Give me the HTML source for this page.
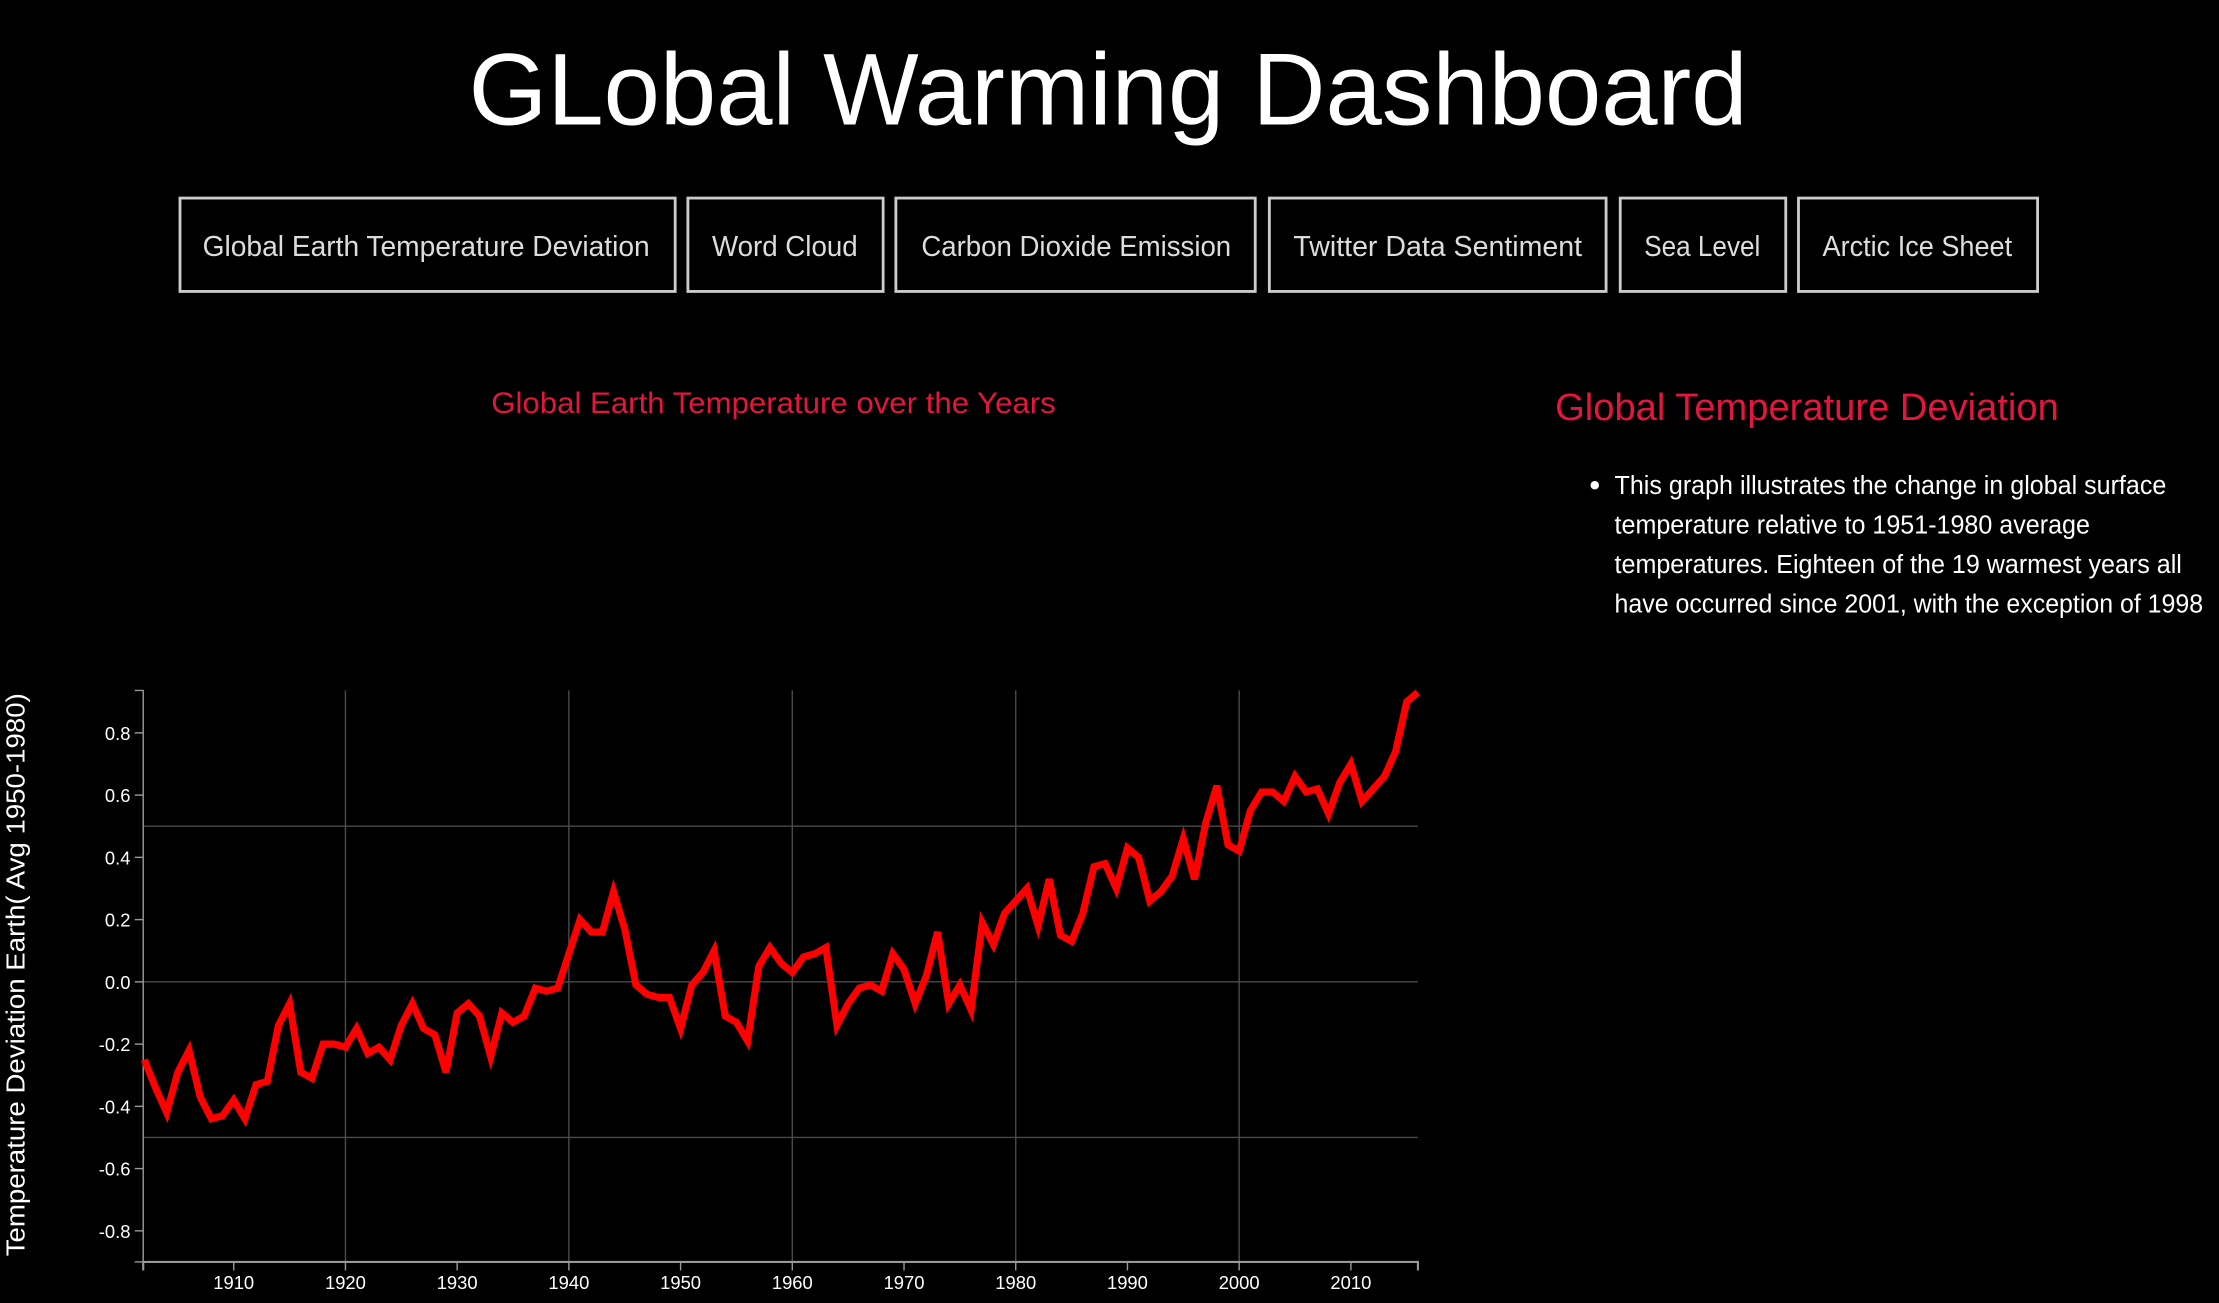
<!DOCTYPE html>
<html><head><meta charset="utf-8"><style>
html,body{margin:0;padding:0;background:#000;overflow:hidden}
svg{display:block}
text{font-family:"Liberation Sans",sans-serif}
</style></head><body>
<svg id="root" width="2219" height="1303" viewBox="0 0 1568 921">
<rect width="1568" height="921" fill="#000"/>
<text x="331" y="88" font-size="72" fill="#fff" textLength="904" lengthAdjust="spacingAndGlyphs">GLobal Warming Dashboard</text>
<g font-size="20" fill="#ddd">
 <g><rect x="127" y="140" width="350" height="66" fill="none" stroke="#ccc" stroke-width="2"/><text x="143" y="181" textLength="316" lengthAdjust="spacingAndGlyphs" fill="#ddd">Global Earth Temperature Deviation</text></g>
 <g><rect x="486" y="140" width="138" height="66" fill="none" stroke="#ccc" stroke-width="2"/><text x="503" y="181" textLength="103" lengthAdjust="spacingAndGlyphs" fill="#ddd">Word Cloud</text></g>
 <g><rect x="633" y="140" width="254" height="66" fill="none" stroke="#ccc" stroke-width="2"/><text x="651" y="181" textLength="219" lengthAdjust="spacingAndGlyphs" fill="#ddd">Carbon Dioxide Emission</text></g>
 <g><rect x="897" y="140" width="238" height="66" fill="none" stroke="#ccc" stroke-width="2"/><text x="914" y="181" textLength="204" lengthAdjust="spacingAndGlyphs" fill="#ddd">Twitter Data Sentiment</text></g>
 <g><rect x="1145" y="140" width="117" height="66" fill="none" stroke="#ccc" stroke-width="2"/><text x="1162" y="181" textLength="82" lengthAdjust="spacingAndGlyphs" fill="#ddd">Sea Level</text></g>
 <g><rect x="1271" y="140" width="169" height="66" fill="none" stroke="#ccc" stroke-width="2"/><text x="1288" y="181" textLength="134" lengthAdjust="spacingAndGlyphs" fill="#ddd">Arctic Ice Sheet</text></g>
</g>
<text x="347" y="292" font-size="21" fill="#e3173e" textLength="399" lengthAdjust="spacingAndGlyphs">Global Earth Temperature over the Years</text>
<text x="1099" y="297" font-size="27" fill="#e3173e" textLength="356" lengthAdjust="spacingAndGlyphs">Global Temperature Deviation</text>
<g font-size="18" fill="#fff">
 <circle cx="1127" cy="343" r="3" fill="#fff"/>
 <text x="1141" y="349" textLength="390" lengthAdjust="spacingAndGlyphs">This graph illustrates the change in global surface</text>
 <text x="1141" y="377" textLength="336" lengthAdjust="spacingAndGlyphs">temperature relative to 1951-1980 average</text>
 <text x="1141" y="405" textLength="401" lengthAdjust="spacingAndGlyphs">temperatures. Eighteen of the 19 warmest years all</text>
 <text x="1141" y="433" textLength="416" lengthAdjust="spacingAndGlyphs">have occurred since 2001, with the exception of 1998</text>
</g>
<g id="chart"></g>
<text transform="translate(17,689) rotate(-90)" text-anchor="middle" font-size="18" fill="#fff" textLength="398" lengthAdjust="spacingAndGlyphs">Temperature Deviation Earth( Avg 1950-1980)</text>
<text x="550" y="936" text-anchor="middle" font-size="18" fill="#fff">Years (1880-2016)</text>
</svg>
<script>
const years = [];
for (let y = 1902; y <= 2016; y++) years.push(y);
const temps = [-0.25,-0.34,-0.42,-0.29,-0.22,-0.37,-0.44,-0.43,-0.38,-0.44,-0.33,-0.32,-0.14,-0.07,-0.29,-0.31,-0.20,-0.20,-0.21,-0.15,-0.23,-0.21,-0.25,-0.14,-0.07,-0.15,-0.17,-0.29,-0.10,-0.07,-0.11,-0.24,-0.10,-0.13,-0.11,-0.02,-0.03,-0.02,0.09,0.20,0.16,0.16,0.29,0.17,-0.01,-0.04,-0.05,-0.05,-0.15,-0.01,0.03,0.10,-0.11,-0.13,-0.19,0.05,0.11,0.06,0.03,0.08,0.09,0.11,-0.14,-0.07,-0.02,-0.01,-0.03,0.09,0.04,-0.07,0.02,0.16,-0.07,-0.01,-0.09,0.19,0.12,0.22,0.26,0.30,0.18,0.33,0.15,0.13,0.22,0.37,0.38,0.30,0.43,0.40,0.26,0.29,0.34,0.46,0.33,0.51,0.63,0.44,0.42,0.55,0.61,0.61,0.58,0.66,0.61,0.62,0.54,0.64,0.70,0.58,0.62,0.66,0.74,0.90,0.93];
const xTicks = [1910,1920,1930,1940,1950,1960,1970,1980,1990,2000,2010];
const yTicks = [-0.8,-0.6,-0.4,-0.2,0.0,0.2,0.4,0.6,0.8];
const xGrid = [1920,1940,1960,1980,2000];
const yGrid = [-0.5,0,0.5];

const X0=101.8, X1=1002, Y0=694, YS=220, TOP=488, BOT=892;
const xDom=[1902,2016];
function x(v){return X0+(v-xDom[0])/(xDom[1]-xDom[0])*(X1-X0);}
function y(v){return Y0-v*YS;}
const NS="http://www.w3.org/2000/svg";
const g=document.getElementById('chart');
function mk(tag,attrs,parent){const e=document.createElementNS(NS,tag);for(const k in attrs)e.setAttribute(k,attrs[k]);(parent||g).appendChild(e);return e;}

xGrid.forEach(v=>{
 const l=mk('line',{x1:x(v),x2:x(v),y1:TOP,y2:BOT,stroke:'#4a4a4a','stroke-width':1});
 
 
});
yGrid.forEach(v=>{
 const l=mk('line',{x1:101,x2:1002,y1:y(v),y2:y(v),stroke:'#4a4a4a','stroke-width':1});
 
 
});
const ya=mk('path',{d:`M95,${TOP}H101V${BOT}H95`,fill:'none',stroke:'#999','stroke-width':1});


const xa=mk('path',{d:`M101,${BOT+6}V${BOT}H1002V${BOT+6}`,fill:'none',stroke:'#999','stroke-width':1.5});


yTicks.forEach(v=>{
 const t=mk('line',{x1:95,x2:101,y1:y(v),y2:y(v),stroke:'#999'});
 
 
 const tx=mk('text',{x:92,y:y(v)+5,'text-anchor':'end','font-size':13,fill:'#fff'});
 tx.textContent=v.toFixed(1);
 
 
});
xTicks.forEach(v=>{
 const t=mk('line',{x1:x(v),x2:x(v),y1:BOT,y2:BOT+6,stroke:'#999'});
 
 
 const tx=mk('text',{x:x(v),y:BOT+19,'text-anchor':'middle','font-size':13,fill:'#fff'});
 tx.textContent=String(v);
 
 
});
const d=years.map((yr,i)=>(i?'L':'M')+x(yr).toFixed(2)+','+y(temps[i]).toFixed(2)).join('');
const line=mk('path',{d:d,fill:'none',stroke:'#ff0000','stroke-width':5,'stroke-linejoin':'miter','stroke-miterlimit':4});


</script>
</body></html>
